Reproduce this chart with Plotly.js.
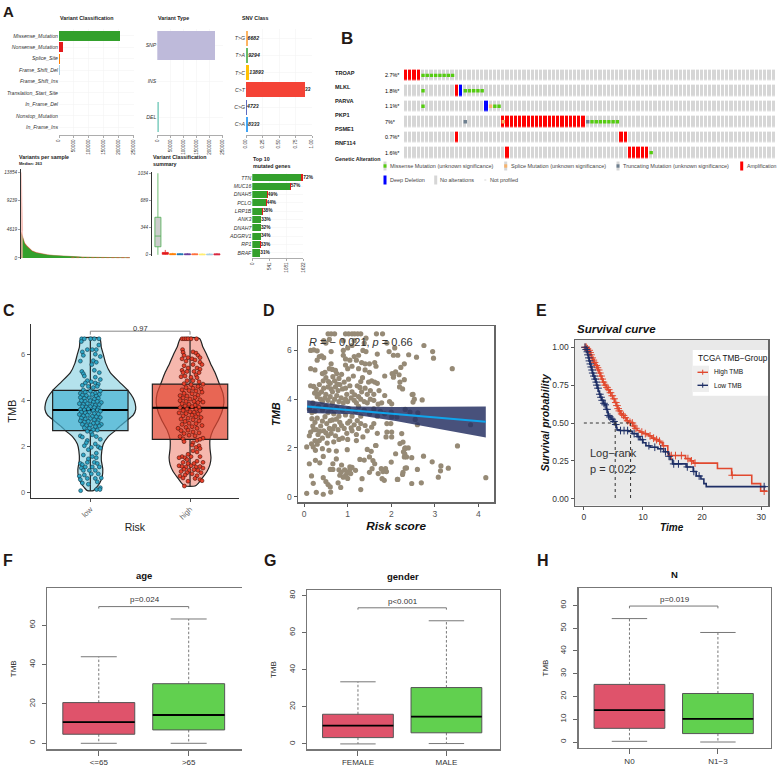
<!DOCTYPE html>
<html><head><meta charset="utf-8">
<script src="https://cdn.plot.ly/plotly-3.0.1.min.js"></script>
<style>html,body{margin:0;padding:0;background:#fff}#chart{width:777px;height:767px}</style>
</head><body><div id="chart"></div>
<script>
// ---------- A: MAF summary ----------
const variantClasses = ['Missense_Mutation','Nonsense_Mutation','Splice_Site','Frame_Shift_Del','Frame_Shift_Ins','Translation_Start_Site','In_Frame_Del','Nonstop_Mutation','In_Frame_Ins'];
const variantClassValues = [204000,13000,4000,2500,1500,700,500,300,200];
const variantClassColors = ['#33a02c','#e31a1c','#ff7f00','#a6cee3','#cab2d6','#fb9a99','#ffff99','#1f78b4','#e7298a'];
const classTicks = [0,50000,100000,150000,200000,250000];
const variantTypes = ['SNP','INS','DEL'];
const variantTypeValues = [220000,300,5000];
const variantTypeColors = ['#bebada','#ffffb3','#8dd3c7'];
const snvClasses = ['T>G','T>A','T>C','C>T','C>G','C>A'];
const snvShare = [0.024,0.034,0.05,0.89,0.017,0.03];
const snvLabels = ['6682','9294','13893','33','4723','8333'];
const snvColors = ['#fdb462','#66bb6a','#ffc107','#f44336','#5c6bc0','#42a5f5'];
const snvTicks = [0,0.25,0.5,0.75,1];
const snvTickText = ['0.00','0.25','0.50','0.75','1.00'];
const sampleRank = [0,1,2,3,5,7,10,14,18,24,30,38,46,56,66,76,88,100];
const sampleGreen = [3966,3300,2800,2300,1850,1500,1060,800,640,480,370,265,190,130,90,60,40,20];
const sampleRed = [4200,3500,2980,2460,1990,1620,1160,880,700,525,405,290,208,142,98,66,44,22];
const sampleSpikeX = [0,0.4,0.8,1.2];
const sampleSpikeY = [13854,9000,6500,4400];
const sampleTicks = [0,4619,9239,13854];
const summaryPos = [1,2,3,4,5,6,7,8,9];
const summaryQ1 = [102,6,2,1,1,1,0,0,0];
const summaryMedian = [238,15,8,5,4,4,3,3,3];
const summaryQ3 = [476,30,14,13,13,12,10,10,12];
const summaryLow = [0,0,0,0,0,0,0,0,0];
const summaryHigh = [1034,62,25,22,22,20,18,18,20];
const summaryColors = ['#cccccc','#e31a1c','#ff7f00','#1f78b4','#6a3d9a','#ff6f3c','#ffed6f','#a6cee3','#d7263d'];
const summaryLines = ['#4caf50','#e31a1c','#ff7f00','#1f78b4','#6a3d9a','#ff6f3c','#ffed6f','#a6cee3','#d7263d'];
const summaryTicks = [0,344,689,1034];
const topGenes = ['TTN','MUC16','DNAH5','PCLO','LRP1B','ANK3','DNAH7','ADGRV1','RP1','BRAF'];
const topGreen = [1562,1192,455,438,312,272,264,262,259,249];
const topRed = [60,30,40,15,25,12,10,12,4,4];
const topPct = ['72%','57%','49%','44%','38%','33%','32%','34%','33%','31%'];
const topTicks = [0,541,1081,1622];

// ---------- B: oncoprint ----------
const oncoGenes = ['TROAP','MLKL','PARVA','PKP1','PSME1','RNF114'];
const oncoPct = ['2.7%*','1.8%*','1.1%*','7%*','0.7%*','1.6%*'];
const oncoLabelY = [72.7,86.7,100.7,114.7,128.7,142.7];
const oncoCols = 88;
const ampCols = {TROAP:[0,1,2,3],MLKL:[12],PARVA:[],PKP1:[23,24,25,26,27,28,29,30,31,32,33,34,35,36,37,38,39,40,41,42],PSME1:[12,51,52],RNF114:[24,53,54,55,56,57]};
const delCols = {TROAP:[],MLKL:[13],PARVA:[19],PKP1:[],PSME1:[],RNF114:[]};
const missenseCols = {TROAP:[4,5,6,7,8,9,10,11],MLKL:[4,14,15,16,17,18],PARVA:[4,21,22],PKP1:[44,45,46,47,48,49,50],PSME1:[],RNF114:[58]};
const spliceCols = {PARVA:[20],PKP1:[23]};
const truncCols = {PKP1:[14,43]};

// ---------- C: violin ----------
const riskTicks = [1,2];
const riskNames = ['low','high'];
const lowViolinY = [6.68,6.3,6,5.6,5.2,4.8,4.42,4.1,3.85,3.6,3.35,3.1,2.85,2.68,2.4,2.1,1.8,1.4,1,0.7,0.4,0.2,0.07];
const lowViolinW = [.095,.11,.13,.155,.2,.29,.378,.43,.45,.455,.43,.36,.29,.25,.175,.13,.115,.11,.125,.12,.095,.06,.03];
const highViolinY = [6.68,6.3,6,5.6,5.2,4.7,4.3,3.9,3.5,3.1,2.7,2.3,1.9,1.5,1.2,0.9,0.6,0.4,0.27];
const highViolinW = [.095,.13,.165,.205,.25,.295,.33,.34,.32,.28,.23,.2,.2,.21,.2,.17,.12,.085,.05];
const lowBox = {q1:2.68,med:3.58,q3:4.43,lo:0.07,hi:6.68};
const highBox = {q1:2.3,med:3.67,q3:4.7,lo:0.27,hi:6.68};
const lowPoints = [[-.087,6.67],[-.06,6.67],[.003,6.67],[.04,6.67],[.087,6.67],[-.09,6.55],[.02,6.2],[-.03,6.2],[.06,6.2],[.085,6.4],[-.08,6.1],[-.07,5.95],[.05,6],[.1,5.9],[-.1,5.7],[.03,5.72],[.06,5.65],[.015,5.55],[.09,5.2],[-.085,5.25],[-.07,5.15],[-.06,5.05],[.04,5.3],[.05,5],[.1,4.9],[-.03,4.85],[-.05,4.75],[.01,4.8],[.05,4.75],[.08,4.7],[-.08,4.65],[-.02,4.6],[.03,4.55],[.07,4.6],[.1,4.4],[-.07,4.45],[-.1,4.3],[-.05,4.35],[0,4.4],[.05,4.3],[.09,4.25],
[-.08,4.22],[-.04,4.2],[.02,4.25],[.06,4.18],[-.1,4.12],[-.06,4.08],[-.01,4.1],[.04,4.05],[.08,4.08],[-.09,3.98],[-.05,3.95],[0,3.98],[.03,3.92],[.07,3.95],[.11,3.9],[-.11,3.85],[-.07,3.82],[-.03,3.85],[.02,3.8],[.05,3.78],[.09,3.8],[-.08,3.72],[-.04,3.7],[0,3.72],[.04,3.68],[.08,3.66],[-.1,3.6],[-.06,3.58],[-.02,3.62],[.03,3.55],[.07,3.58],[.1,3.52],[-.09,3.48],[-.05,3.45],[-.01,3.48],[.04,3.42],[.08,3.4],[-.11,3.38],[-.07,3.32],[-.03,3.35],[.02,3.3],[.06,3.28],[.1,3.25],[-.09,3.22],[-.05,3.18],[0,3.2],[.04,3.15],[.08,3.12],[-.1,3.1],[-.06,3.05],[-.02,3.08],[.03,3],[.07,3.02],[.11,2.95],[-.08,2.95],[-.04,2.9],[0,2.92],[.05,2.85],[.09,2.88],[-.06,2.8],[-.01,2.78],[.03,2.72],[.07,2.7],[-.03,2.65],[.01,2.6],
[-.1,2.45],[-.08,2.4],[.02,2.5],[.06,2.42],[.1,2.3],[-.03,2.25],[-.04,2.15],[.05,2.1],[-.06,2.02],[.08,1.98],[.1,1.92],[-.02,1.85],[.01,1.95],[.06,1.7],[.02,1.55],[-.07,1.62],[-.02,1.45],[.06,1.5],[-.1,1.25],[-.08,1.2],[-.03,1.3],[.04,1.3],[.07,1.25],[-.05,1.1],[-.09,1.05],[.02,1.1],[.09,1.1],[-.07,.95],[-.01,.95],[.05,.95],[-.11,.7],[-.06,.75],[.01,.8],[.08,.8],[-.1,.55],[-.03,.6],[.05,.6],[.11,.62],[-.08,.4],[-.02,.35],[.07,.45],[.1,.2],[.063,.12],[.097,.12],[-.097,.07]];
const highPoints = [[-.08,6.67],[-.06,6.67],[-.04,6.67],[-.02,6.67],[.01,6.67],[.065,6.67],[-.075,6.2],[-.07,6.08],[.03,6.1],[.06,6.05],[-.06,5.95],[.08,5.95],[.1,5.85],[-.08,5.8],[-.02,5.85],[.02,5.8],[.05,5.75],[-.04,5.7],[.1,5.65],[.03,5.55],[.12,5.55],[-.06,5.5],[-.02,5.4],[.07,5.4],[.1,5.35],[-.08,5.3],[-.07,5.2],[-.03,5.25],[.04,5.25],[.09,5.2],[-.09,5.02],[.06,5.1],[-.05,5.05],[.01,5],[.07,4.98],[-.03,4.85],[.03,4.85],[.09,4.8],[.13,4.7],
[-.06,4.72],[.01,4.68],[.08,4.6],[-.04,4.55],[.03,4.52],[.11,4.5],[-.08,4.45],[-.01,4.42],[.06,4.4],[.12,4.35],[-.06,4.3],[.02,4.28],[.08,4.22],[-.1,4.2],[-.03,4.18],[.05,4.12],[-.07,4.1],[0,4.05],[.1,4.02],[-.1,3.98],[-.04,3.95],[.04,3.95],[.08,3.9],[.13,3.92],[-.08,3.85],[-.01,3.82],[.05,3.78],[-.05,3.75],[.02,3.72],[.09,3.7],[-.1,3.68],[-.03,3.62],[.06,3.6],[.1,3.55],[-.07,3.55],[0,3.5],[.04,3.48],[-.11,3.45],[-.04,3.42],[.08,3.4],[.02,3.35],[-.07,3.32],[.06,3.28],[.11,3.25],[-.02,3.22],[-.09,3.18],[.03,3.15],[.09,3.1],[-.05,3.08],[-.01,3],[.06,2.98],[-.08,2.95],[.12,2.9],[.02,2.85],[-.04,2.82],[.07,2.78],[-.12,2.78],[-.09,2.68],[-.02,2.7],[.03,2.62],[.09,2.58],[-.06,2.55],[.13,2.35],[-.01,2.48],[.05,2.45],[-.1,2.42],[-.07,2.32],
[-.06,2.2],[.03,2.15],[.07,2.25],[.1,2.3],[.02,2.05],[.09,2.02],[.06,1.95],[.1,1.9],[.03,1.8],[.07,1.75],[-.02,1.65],[-.08,1.55],[-.11,1.5],[-.05,1.5],[.01,1.55],[.1,1.55],[-.03,1.42],[.07,1.35],[.13,1.3],[-.07,1.3],[-.02,1.25],[.04,1.25],[-.11,1.15],[-.08,1.12],[-.04,1.1],[.01,1.15],[.06,1.1],[.1,1.12],[.13,1.05],[-.06,1],[-.01,.95],[.04,.98],[.08,.95],[-.09,.9],[-.03,.85],[.02,.8],[.11,.85],[-.05,.75],[.07,.72],[-.1,.7],[-.07,.62],[.05,.6],[.1,.55],[.12,.5],[-.02,.48],[-.057,.27]];

// ---------- D: scatter ----------
const riskTmbPoints = [[.55,6.68],[.62,6.68],[.7,6.68],[.95,6.68],[1.02,6.68],[1.1,6.68],[1.16,6.68],[1.23,6.68],[1.3,6.68],[1.66,6.68],[1.8,6.68],[.45,6.4],[.5,6.3],[.58,6.45],[.9,6.4],[1.15,6.4],[1.38,6.3],[1.42,6.5],[1.9,6.3],[2.08,6.1],[2.75,6.2],[.15,6],[.22,6.02],[.3,5.98],[.62,5.95],[.9,6],[1,6.1],[1.1,6.2],[1.35,6],[1.42,5.95],[1.68,5.85],[1.95,5.95],[2.05,5.8],[2.15,5.8],[2.4,5.82],[2.58,5.72],[2.95,5.95],[2.97,5.68],[.3,5.6],[.35,5.75],[.4,5.78],[.45,5.7],[.62,5.45],[.9,5.8],[.95,5.65],[1.05,5.6],[1.15,5.75],[1.2,5.6],[1.25,5.8],[1.32,5.5],[1.4,5.45],[1.5,5.45],[1.62,5.5],[2.3,5.45],[2.22,5.3],[3.4,5.25],[.15,5.25],[.25,5.2],[.42,5.05],[.48,5.1],[.58,5.25],[.65,5.22],[.72,5.18],[.75,5.05],[.95,5.4],[1,5.25],[1.1,5.35],[1.25,5.25],[1.4,5.2],[1.5,5.1],[1.65,5.35],[1.85,4.95],[2.02,5.05],[2.1,5.12],[2.18,5],[2.05,4.9],[2.26,4.42],[2.3,4.8],[2.19,4.5],[2.2,4.7],[2.05,4.97],[2.71,3.97],[2.5,3.88],[2.53,4],[2.48,4.19],[2.5,4.2],
[.15,4.55],[.22,4.52],[.28,4.4],[.35,4.6],[.4,4.3],[.45,4.45],[.5,4.2],[.55,4.5],[.6,4.65],[.65,4.3],[.7,4.75],[.72,4.5],[.78,4.35],[.82,4.6],[.88,4.42],[.92,4.7],[.98,4.2],[1.05,4.55],[1.1,4.3],[1.22,4.55],[1.25,4.1],[1.32,4.3],[1.4,4.45],[1.48,4.7],[1.55,4.75],[1.62,4.7],[1.68,4.65],[1.45,4.2],[1.6,4.2],[.3,4.1],[.38,4],[.42,3.9],[.48,4.05],[.55,3.95],[.6,4.1],[.65,3.85],[.7,4],[.75,4.15],[.8,3.9],[.85,4.05],[.9,3.85],[.95,4],[1,3.9],[1.08,4.05],[1.15,3.95],[1.2,3.85],[1.3,4],[1.38,3.9],[1.45,3.85],[1.52,4],[1.6,3.95],[1.7,3.8],[1.78,3.85],[.2,3.85],[1.96,3.9],[2.01,3.81],
[.5,4.88],[.56,4.72],[.66,4.92],[.8,4.85],[.86,5.02],[1.02,4.82],[1.13,4.95],[1.3,4.72],[1.34,4.88],[.44,4.75],[.34,4.22],[.62,4.42],[.76,4.62],[.95,4.45],[1.16,4.18],[1.28,4.48],[1.52,4.35],[1.72,4.35],[1.85,4.15],[.24,4.25],
[.12,3.6],[.18,3.45],[.25,3.5],[.33,3.7],[.42,3.55],[.5,3.7],[.55,3.45],[.62,3.6],[.68,3.4],[.75,3.65],[.8,3.3],[.88,3.55],[.95,3.35],[1.02,3.6],[1.1,3.3],[1.18,3.5],[1.25,3.7],[1.3,3.3],[1.38,3.55],[1.5,3.4],[1.6,3.6],[1.68,3.3],[1.75,3.5],[1.85,3.4],[2.01,3.27],[2.13,3.27],[2,3.47],[2.32,3.58],[2.43,3.47],[2.61,3.44],[2.55,3.17],[2.6,2.95],[1.99,3],[1.9,3],
[.12,2.5],[.15,2.65],[.2,2.9],[.25,3.05],[.18,3.2],[.28,2.75],[.32,2.55],[.38,2.9],[.42,3.1],[.45,2.7],[.52,3],[.58,2.8],[.62,2.6],[.65,3.15],[.7,2.9],[.72,2.5],[.78,2.75],[.8,2.35],[.82,3.05],[.88,2.4],[.92,2.8],[.98,2.6],[1.05,3.1],[1.1,2.7],[1.15,2.95],[1.2,2.55],[1.25,2.8],[1.3,3],[1.35,2.45],[1.45,2.7],[1.55,2.85],[1.6,3],[1.68,2.6],[.35,2.3],[.42,2.4],[.55,2.5],[.68,2.25],[.25,2.3],[.3,2.15],[1,2.35],[1.2,2.3],[1.65,2.1],[2.24,2.59],[2.01,2.65],[1.9,2.65],[1.88,2.45],[2.01,2.45],[2.2,2.18],[2.32,2],[2.39,2],[2.28,1.84],[2.3,1.63],
[.3,3.22],[.48,3.28],[.6,3.12],[.74,3.18],[.86,2.92],[1,3.02],[1.08,2.82],[1.22,3.12],[1.4,2.92],[.22,2.75],[.36,2.68],[.5,2.62],[.66,2.78],
[.06,.14],[.28,.18],[.44,.1],[.61,.19],[1.3,.29],[.21,.55],[.44,.78],[.5,.62],[.55,.5],[.6,.4],[.78,.57],[.84,.38],[1.33,.74],[.17,.85],[.82,.88],[.95,.85],[1,1],[1.05,1.1],[1.1,1.2],[.93,1.1],[.98,.95],[1.07,.95],[1,.75],[.9,.8],[.6,1.12],[.66,1.12],[.8,1.1],[.85,1],[.86,1.3],[1.18,1.08],[1.5,1],[1.56,1.15],[1.7,.95],[1.79,.74],[1.84,.67],[1.77,1.15],[1.87,1.15],[1.81,1.03],[1.89,1.03],[2.14,.71],[2.27,1],[2.32,1.17],[.66,1.35],[.74,1.55],[1.05,1.22],[1.28,1.53],[1.38,1.5],[1.5,1.63],[1.58,1.48],[1.62,1.35],[2,1.42],[1.64,2.1],[1.45,1.94],[1.54,1.86],[2.1,1.76],[.12,1.35],[.26,1.49],[.36,1.39],[.44,1.65],[.06,2.04],[.17,2.17],[.21,2.04],[.26,1.9],[.42,1.97],[.57,1.9],[.74,1.87],[.99,1.93],[.53,2.2],[2.27,2.24],[2.31,1.97],[2.31,1.76],[2.35,1.63],
[3.52,2.08],[3.82,2.95],[4.17,.78],[3.31,1.17],[3.14,1.26],[3.13,1.06],[3.08,.8],[2.94,1.43],[2.74,1.66],[2.47,1.6],[2.69,.57],[2.47,.54],[2.6,1.12],[2.35,1.18],[2.26,.91],[2.15,.71]];
const fitX = [0.07,1.1,2.1,3.1,4.17];
const fitY = [3.7,3.54,3.39,3.23,3.07];
const fitUpper = [3.95,3.7,3.68,3.68,3.7];
const fitLower = [3.43,3.38,3.1,2.78,2.43];

// ---------- E: survival ----------
const highT = [0,.3,.5,.8,1,1.15,1.3,1.5,1.7,2,2.2,2.4,2.6,2.8,3,3.2,3.5,3.8,4,4.3,4.6,4.9,5.2,5.5,5.7,5.9,6.2,6.5,6.8,7.2,7.6,8,8.3,8.6,9,9.5,10,10.6,11,11.5,12,12.6,13,13.3,14.2,14.5,17.2,18,18.5,22.6,25,28.4,29.9,31];
const highS = [1,1,.99,.98,.965,.95,.93,.915,.9,.88,.865,.85,.83,.81,.79,.77,.75,.735,.72,.7,.68,.66,.635,.615,.595,.58,.56,.55,.535,.515,.505,.5,.48,.465,.45,.44,.43,.425,.415,.4,.39,.38,.37,.35,.3,.285,.265,.25,.235,.2,.155,.1,.05,.05];
const lowT = [0,.3,.5,.65,.8,.9,1,1.15,1.3,1.45,1.6,1.8,2,2.15,2.3,2.45,2.6,2.8,3,3.3,3.5,3.8,4,4.1,4.2,4.6,5,5.3,5.5,5.6,6,7.5,8.2,9,9.5,10,10.5,11.2,12.5,13.5,14.3,14.6,15,16.7,17.3,18.5,19,19.8,20.3,20.7,30.8];
const lowS = [1,.985,.97,.95,.93,.91,.89,.87,.85,.83,.81,.79,.77,.75,.73,.71,.69,.67,.65,.63,.62,.59,.57,.55,.54,.525,.51,.49,.47,.455,.45,.445,.43,.41,.39,.37,.35,.34,.33,.31,.28,.26,.23,.23,.21,.18,.15,.13,.1,.08,.08];
const highCensorT = [.2,.4,.6,.9,1.05,1.2,1.4,1.6,1.8,2.1,2.3,2.5,2.7,2.9,3.1,3.3,3.6,3.9,4.2,4.5,4.8,5.1,5.4,5.6,5.8,6,6.4,6.7,7,7.4,7.8,8.2,8.5,8.8,9.8,10.4,11.2,11.8,12.3,12.8,13.5,14.8,15.5,16.5,17.6,18.2,18.8,25.1,30.5];
const lowCensorT = [.2,.4,.6,.7,.85,.95,1.1,1.25,1.4,1.5,1.7,1.9,2.1,2.2,2.4,2.7,2.9,3.1,3.4,3.6,3.9,4.15,4.4,4.8,5.1,5.4,6.2,6.8,7.4,8.5,9.2,9.9,11,12,13,13.8,14.4,15.2,16,17.5,18.6,19.5,30.5];
const medianLowT = 5.3, medianHighT = 7.9;

// ---------- F, G, H: boxes ----------
const ageGroups = ['<=65','>65'];
const ageBoxes = {q1:[4.6,6.8],med:[10.8,14.4],q3:[20.7,30.3],lo:[0,0],hi:[44,63.2]};
const genderGroups = ['FEMALE','MALE'];
const genderBoxes = {q1:[3.4,6],med:[9.9,14.7],q3:[16,30.4],lo:[0,0.2],hi:[33.5,66.4]};
const nGroups = ['N0','N1\u22123'];
const nBoxes = {q1:[6,3.7],med:[14,10.2],q3:[25.3,21.3],lo:[0.3,0],hi:[54.2,48.1]};

// ---------- helpers ----------
const W = 777, H = 767, FONT = 'Liberation Sans, Arial, sans-serif';
const traces = [], annotations = [], shapes = [];
const layout = {width:W,height:H,margin:{l:0,r:0,t:0,b:0},paper_bgcolor:'#fff',plot_bgcolor:'#fff',
  font:{family:FONT,color:'#222'},barmode:'stack',annotations,shapes,showlegend:false,hovermode:false};
function panel(n,l,r,t,b,xo,yo){
  layout['xaxis'+n] = Object.assign({domain:[l/W,r/W],anchor:'y'+n,zeroline:false,showgrid:false,automargin:false},xo);
  layout['yaxis'+n] = Object.assign({domain:[1-b/H,1-t/H],anchor:'x'+n,zeroline:false,showgrid:false,automargin:false},yo);
}
function note(text,px,py,o={}){
  const a = o.anchor||'left';
  annotations.push({text,x:(a==='left'?px-1:px)/W,y:1-py/H,xref:'paper',yref:'paper',showarrow:false,xanchor:a,yanchor:'middle',
    textangle:o.angle||0,font:{size:o.size||6,color:o.color||'#222',family:FONT,weight:o.bold?'bold':'normal',style:o.italic?'italic':'normal'}});
}
const add = t => {traces.push(Object.assign({showlegend:false,hoverinfo:'skip'},t)); };
const grid = '#f1f1f1', tinyX = {size:4.6,color:'#333'};

// A1
const aX = {ticks:'outside',ticklen:2,tickwidth:.5,tickcolor:'#555',showline:true,linecolor:'#777',linewidth:.6,showgrid:true,gridcolor:grid,gridwidth:.5,tickangle:-90,tickfont:tinyX};
const catY = (cats,lo,hi)=>({type:'category',categoryorder:'array',categoryarray:cats,range:[hi,lo],ticks:'',tickfont:{size:5.2,style:'italic',color:'#333'},showgrid:true,gridcolor:grid,gridwidth:.5});
panel(1,59,133.7,29,135,Object.assign({range:[0,250000],tickvals:classTicks,ticktext:classTicks.map(String)},aX),catY(variantClasses,-.6,8.69));
add({type:'bar',orientation:'h',x:variantClassValues,y:variantClasses,width:.88,marker:{color:variantClassColors},xaxis:'x1',yaxis:'y1'});
// A2
panel(2,157.3,222.7,29,135,Object.assign({range:[0,250000],tickvals:classTicks,ticktext:classTicks.map(String)},aX),catY(variantTypes,-.46,2.5));
add({type:'bar',orientation:'h',x:variantTypeValues,y:variantTypes,width:.83,marker:{color:variantTypeColors},xaxis:'x2',yaxis:'y2'});
// A3
panel(3,246,312,29,135,Object.assign({range:[0,1],tickvals:snvTicks,ticktext:snvTickText},aX),catY(snvClasses,-.54,5.62));
add({type:'bar',orientation:'h',x:snvShare,y:snvClasses,width:.87,marker:{color:snvColors},xaxis:'x3',yaxis:'y3'});
add({type:'scatter',mode:'text',x:snvShare,y:snvClasses,text:snvLabels,textposition:'middle right',cliponaxis:false,textfont:{size:5.2,style:'italic',weight:'bold',color:'#222'},xaxis:'x3',yaxis:'y3'});
// A4
const blackY = {showline:true,linecolor:'#333',linewidth:1,ticks:'outside',ticklen:2,tickwidth:.5,tickfont:{size:4.6,style:'italic',color:'#333'}};
panel(4,21,130,169,258.5,{range:[-.3,100],visible:false},Object.assign({range:[-100,14400],tickvals:sampleTicks,ticktext:sampleTicks.map(String)},blackY));
add({type:'scatter',mode:'lines',x:sampleRank,y:sampleRed,line:{color:'#e8503a',width:.3},fill:'tozeroy',fillcolor:'#e8503a',xaxis:'x4',yaxis:'y4'});
add({type:'scatter',mode:'lines',x:sampleRank,y:sampleGreen,line:{color:'#33a02c',width:.3},fill:'tozeroy',fillcolor:'#33a02c',xaxis:'x4',yaxis:'y4'});
add({type:'scatter',mode:'lines',x:sampleSpikeX,y:sampleSpikeY,line:{color:'#f7b3a8',width:.5},fill:'tozeroy',fillcolor:'#f7b3a8',xaxis:'x4',yaxis:'y4'});
add({type:'scatter',mode:'lines',x:[46,100],y:[30,30],line:{color:'#e8503a',width:.7,dash:'3px,2px'},xaxis:'x4',yaxis:'y4'});
// A5
panel(5,152,221,172,256,{range:[.2,9.55],visible:false,showgrid:true},Object.assign({range:[-15,1050],tickvals:summaryTicks,ticktext:summaryTicks.map(String)},blackY));
summaryPos.forEach((p,i)=>add({type:'box',x:[p],q1:[summaryQ1[i]],median:[summaryMedian[i]],q3:[summaryQ3[i]],lowerfence:[summaryLow[i]],upperfence:[summaryHigh[i]],width:.82,whiskerwidth:0,boxpoints:false,
  fillcolor:summaryColors[i],line:{color:summaryLines[i],width:.8},xaxis:'x5',yaxis:'y5'}));
// A6
panel(6,252.3,303.3,173,258,Object.assign({range:[0,1622],tickvals:topTicks,ticktext:topTicks.map(String)},aX),catY(topGenes,-.58,9.6));
add({type:'bar',orientation:'h',x:topGreen,y:topGenes,width:.85,marker:{color:'#33a02c'},xaxis:'x6',yaxis:'y6'});
add({type:'bar',orientation:'h',x:topRed,y:topGenes,width:.85,marker:{color:'#e31a1c'},xaxis:'x6',yaxis:'y6'});
add({type:'scatter',mode:'text',x:topGreen.map((g,i)=>g+topRed[i]),y:topGenes,text:topPct,textposition:'middle right',cliponaxis:false,textfont:{size:4.8,weight:'bold',color:'#222'},xaxis:'x6',yaxis:'y6'});
note('Variant Classification',59,18.5,{size:5.3,bold:true});
note('Variant Type',157,18.5,{size:5.3,bold:true});
note('SNV Class',241,18.5,{size:5.3,bold:true});
note('Variants per sample',18,157.3,{size:5.3,bold:true});
note('Median: 263',18,163.7,{size:4,bold:true});
note('Variant Classification',151.5,157.3,{size:5.3,bold:true});
note('summary',151.5,164,{size:5.3,bold:true});
note('Top 10',252,159,{size:5.3,bold:true});
note('mutated genes',252,165.5,{size:5.3,bold:true});

// B
const oncoZ = oncoGenes.map(g=>{
  const row = new Array(oncoCols).fill(0);
  ampCols[g].forEach(c=>row[c]=1);
  delCols[g].forEach(c=>row[c]=2);
  return row;
});
panel(7,404,775.8,67.6,160.4,{range:[-.5,oncoCols-.5],visible:false},{type:'category',categoryorder:'array',categoryarray:oncoGenes,range:[5.5,-.5],visible:false});
add({type:'heatmap',z:oncoZ,y:oncoGenes,x:Array.from({length:oncoCols},(_,i)=>i),xgap:1,ygap:4.5,zmin:0,zmax:2,showscale:false,
  colorscale:[[0,'#d6d6d6'],[.5,'#ff0000'],[1,'#0000ff']],xaxis:'x7',yaxis:'y7'});
function oncoMarks(map,color){
  const xs=[],ys=[];
  Object.keys(map).forEach(g=>map[g].forEach(c=>{xs.push(c);ys.push(g);}));
  add({type:'scatter',mode:'markers',x:xs,y:ys,marker:{symbol:'square',size:3.4,color,line:{width:0}},xaxis:'x7',yaxis:'y7'});
}
oncoMarks(missenseCols,'#55cc11'); oncoMarks(spliceCols,'#f6b26b'); oncoMarks(truncCols,'#6d7f8f');
oncoGenes.forEach((g,i)=>{
  note(g,334,oncoLabelY[i],{size:5.6,bold:true});
  note(oncoPct[i],384,75.3+i*15.48,{size:5.4,color:'#000'});
});
note('Genetic Alteration',334,159.3,{size:5.3,bold:true});
const legendRow1 = 166, legendRow2 = 180;
function swatch(cx,cy,w,h,color){shapes.push({type:'rect',xref:'paper',yref:'paper',x0:(cx-w/2)/W,x1:(cx+w/2)/W,y0:1-(cy+h/2)/H,y1:1-(cy-h/2)/H,fillcolor:color,line:{width:0}});}
[[385,'#d6d6d6',9],[385,'#55cc11',3.4]].forEach(a=>swatch(a[0],legendRow1,3,a[2],a[1]));
[[505.7,'#d6d6d6',9],[505.7,'#f6b26b',3.4]].forEach(a=>swatch(a[0],legendRow1,3,a[2],a[1]));
[[618,'#d6d6d6',9],[618,'#6d7f8f',3.4]].forEach(a=>swatch(a[0],legendRow1,3,a[2],a[1]));
swatch(741.7,legendRow1,3,9,'#ff0000'); swatch(385,legendRow2,3,9,'#0000ff'); swatch(435.7,legendRow2,3,9,'#d6d6d6'); swatch(485.3,legendRow2,2,.6,'#bbbbbb');
note('Missense Mutation (unknown significance)',389,legendRow1,{size:5.5,color:'#444'});
note('Splice Mutation (unknown significance)',510,legendRow1,{size:5.5,color:'#444'});
note('Truncating Mutation (unknown significance)',622,legendRow1,{size:5.5,color:'#444'});
note('Amplification',745.7,legendRow1,{size:5.2,color:'#444'});
note('Deep Deletion',389,legendRow2,{size:5.5,color:'#444'});
note('No alterations',439,legendRow2,{size:5.5,color:'#444'});
note('Not profiled',489,legendRow2,{size:5.5,color:'#444'});

// C
const xC = {range:[.402,2.491],tickvals:riskTicks,ticktext:riskNames,tickangle:-45,showline:true,linecolor:'#333',linewidth:1,ticks:'outside',ticklen:3,tickcolor:'#555',tickfont:{size:7.5,color:'#666'},title:{text:'Risk',font:{size:10.5,color:'#222'},standoff:3}};
const yC = {range:[-.25,7.3],tickvals:[0,2,4,6],showline:true,linecolor:'#333',linewidth:1,ticks:'outside',ticklen:3,tickcolor:'#555',tickfont:{size:7.5,color:'#666'},title:{text:'TMB',font:{size:11,color:'#222'},standoff:2}};
panel(8,30.7,239,324.3,498,xC,yC);
panel(14,30.7,239,324.3,498,{range:xC.range,overlaying:'x8',visible:false},{range:yC.range,overlaying:'y8',visible:false});
function violin(c,ys,ws,fill){
  const xs = ws.map(w=>c-w).concat(ws.slice().reverse().map(w=>c+w));
  const yy = ys.concat(ys.slice().reverse());
  add({type:'scatter',mode:'lines',x:xs.concat(xs[0]),y:yy.concat(yy[0]),line:{color:'#222',width:1.2,shape:'spline',smoothing:.6},fill:'toself',fillcolor:fill,xaxis:'x8',yaxis:'y8'});
}
violin(1,lowViolinY,lowViolinW,'#b4e2ec'); violin(2,highViolinY,highViolinW,'#f6b7ad');
function cBox(c,b,fill){
  add({type:'box',x:[c],q1:[b.q1],median:[b.med],q3:[b.q3],lowerfence:[b.lo],upperfence:[b.hi],width:.756,whiskerwidth:0,boxpoints:false,fillcolor:fill,line:{color:'#222',width:1.2},xaxis:'x14',yaxis:'y14'});
  add({type:'scatter',mode:'lines',x:[c-.378,c+.378],y:[b.med,b.med],line:{color:'#000',width:2},xaxis:'x14',yaxis:'y14'});
}
cBox(1,lowBox,'rgba(73,180,212,.72)'); cBox(2,highBox,'rgba(226,70,50,.72)');
add({type:'scatter',mode:'markers',x:lowPoints.map(p=>1+p[0]),y:lowPoints.map(p=>p[1]),cliponaxis:false,marker:{size:3.9,color:'#2fa6c6',line:{color:'#12394a',width:.6}},xaxis:'x14',yaxis:'y14'});
add({type:'scatter',mode:'markers',x:highPoints.map(p=>2+p[0]),y:highPoints.map(p=>p[1]),cliponaxis:false,marker:{size:3.9,color:'#e8402b',line:{color:'#4a120a',width:.6}},xaxis:'x14',yaxis:'y14'});
add({type:'scatter',mode:'lines',x:[1,1,2,2],y:[6.85,7,7,6.85],line:{color:'#888',width:1},xaxis:'x14',yaxis:'y14'});
annotations.push({text:'0.97',x:1.5,y:7.12,xref:'x14',yref:'y14',showarrow:false,font:{size:7.5,color:'#333',family:FONT}});

// D
const boxAxis = (extra)=>Object.assign({showline:true,mirror:true,linecolor:'#666',linewidth:1.5,ticks:'outside',ticklen:3,tickcolor:'#555',tickfont:{size:8.5,color:'#555'}},extra);
panel(9,298,494.3,326,502.3,
  boxAxis({range:[-.14,4.365],tickvals:[0,1,2,3,4],title:{text:'Risk score',font:{size:11.8,weight:'bold',style:'italic',color:'#111'},standoff:1}}),
  boxAxis({range:[-.23,7],tickvals:[0,2,4,6],title:{text:'TMB',font:{size:11,weight:'bold',style:'italic',color:'#111'},standoff:4}}));
add({type:'scatter',mode:'markers',x:riskTmbPoints.map(p=>p[0]),y:riskTmbPoints.map(p=>p[1]),marker:{size:5.2,color:'#968a76'},xaxis:'x9',yaxis:'y9'});
add({type:'scatter',mode:'lines',x:fitX.concat(fitX.slice().reverse()),y:fitUpper.concat(fitLower.slice().reverse()),line:{width:0},fill:'toself',fillcolor:'rgba(40,50,100,.85)',xaxis:'x9',yaxis:'y9'});
add({type:'scatter',mode:'lines',x:fitX,y:fitY,line:{color:'#10a5ec',width:2},xaxis:'x9',yaxis:'y9'});
note('<i>R</i> = \u2212 0.021, <i>p</i> = 0.66',308,342,{size:11,color:'#333'});

// E
panel(10,575,768.3,340,505.7,
  boxAxis({range:[-1.5,31.2],tickvals:[0,10,20,30],tickfont:{size:8.5,color:'#333'},title:{text:'Time',font:{size:10,weight:'bold',style:'italic',color:'#111'},standoff:2}}),
  boxAxis({range:[-.046,1.048],tickvals:[0,.25,.5,.75,1],ticktext:['0.00','0.25','0.50','0.75','1.00'],tickfont:{size:8.5,color:'#333'},title:{text:'Survival probability',font:{size:10.5,weight:'bold',style:'italic',color:'#111'},standoff:0}}));
shapes.push({type:'rect',xref:'x10',yref:'y10',x0:-1.5,x1:31.2,y0:-.046,y1:1.048,fillcolor:'#e9e9e9',line:{width:0},layer:'below'});
const red='#e1492f', navy='#1e2f66';
const stepAt = (ts,ss,t)=>{let v=ss[0];ts.forEach((x,i)=>{if(x<=t)v=ss[i];});return v;};
add({type:'scatter',mode:'lines',x:highT,y:highS,line:{color:red,width:1.6,shape:'hv'},xaxis:'x10',yaxis:'y10'});
add({type:'scatter',mode:'lines',x:lowT,y:lowS,line:{color:navy,width:1.6,shape:'hv'},xaxis:'x10',yaxis:'y10'});
add({type:'scatter',mode:'markers',x:highCensorT,y:highCensorT.map(t=>stepAt(highT,highS,t)),marker:{symbol:'cross-thin',size:5.5,line:{color:red,width:1}},xaxis:'x10',yaxis:'y10'});
add({type:'scatter',mode:'markers',x:lowCensorT,y:lowCensorT.map(t=>stepAt(lowT,lowS,t)),marker:{symbol:'cross-thin',size:5.5,line:{color:navy,width:1}},xaxis:'x10',yaxis:'y10'});
add({type:'scatter',mode:'lines',x:[0,medianHighT],y:[.5,.5],line:{color:'#333',width:1,dash:'3px,3px'},xaxis:'x10',yaxis:'y10'});
add({type:'scatter',mode:'lines',x:[medianLowT,medianLowT],y:[.5,0],line:{color:'#333',width:1,dash:'3px,3px'},xaxis:'x10',yaxis:'y10'});
add({type:'scatter',mode:'lines',x:[medianHighT,medianHighT],y:[.5,0],line:{color:'#333',width:1,dash:'3px,3px'},xaxis:'x10',yaxis:'y10'});
// group legend of panel E
const paperRect = (x0,x1,y0,y1,fill)=>shapes.push({type:'rect',xref:'paper',yref:'paper',layer:'above',x0:x0/W,x1:x1/W,y0:1-y1/H,y1:1-y0/H,fillcolor:fill,line:{width:0}});
paperRect(692.7,768,350,395.7,'#fff');
paperRect(692.7,709,365.7,392,'#eeeeee');
[[372.3,red],[385.3,navy]].forEach(k=>{
  paperRect(697.5,708,k[0]-.7,k[0]+.7,k[1]);
  paperRect(702.2,703.2,k[0]-2.5,k[0]+2.5,k[1]);
});
note('TCGA TMB\u2212Group',696.7,358,{size:8.2,color:'#111'});
note('High TMB',713,372.3,{size:6.6,color:'#111'});
note('Low TMB',713,385.3,{size:6.6,color:'#111'});
note('Survival curve',576,329,{size:11.5,bold:true,italic:true,color:'#111'});
annotations.push({text:'Log\u2212rank',x:.7,y:.3,xref:'x10',yref:'y10',xanchor:'left',showarrow:false,font:{size:11,color:'#333',family:FONT}});
annotations.push({text:'p = 0.022',x:.7,y:.195,xref:'x10',yref:'y10',xanchor:'left',showarrow:false,font:{size:11,color:'#333',family:FONT}});

// F G H
const rX = o=>Object.assign({showline:true,mirror:true,linecolor:'#777',linewidth:1.3,ticks:'outside',ticklen:5,tickcolor:'#666',tickfont:{size:8,color:'#333'}},o);
const rY = o=>Object.assign({showline:true,mirror:true,linecolor:'#777',linewidth:1.3,ticks:'outside',ticklen:4,tickcolor:'#666',tickangle:-90,ticklabelstandoff:4,tickfont:{size:8,color:'#333'},title:{text:'TMB',font:{size:8,color:'#222'},standoff:9}},o);
function boxPanel(n,l,r,t,b,xr,yr,groups,yt,data,bracketY,bracketDrop,label,title,titleX,titleY,labelPy,mirrorY){
  panel(n,l,r,t,b,rX({range:xr,tickvals:[1,2],ticktext:groups}),rY({range:yr,tickvals:yt,mirror:mirrorY}));
  [0,1].forEach(i=>{
    const c=i+1, xa='x'+n, ya='y'+n;
    add({type:'box',x:[c],q1:[data.q1[i]],median:[data.med[i]],q3:[data.q3[i]],lowerfence:[data.q1[i]],upperfence:[data.q3[i]],width:.8,whiskerwidth:0,boxpoints:false,
      fillcolor:i?'#61d04f':'#df536b',line:{color:'#555',width:1},xaxis:xa,yaxis:ya});
    add({type:'scatter',mode:'lines',x:[c-.4,c+.4],y:[data.med[i],data.med[i]],line:{color:'#000',width:1.8},xaxis:xa,yaxis:ya});
    [[data.q3[i],data.hi[i]],[data.q1[i],data.lo[i]]].forEach(w=>{
      add({type:'scatter',mode:'lines',x:[c,c],y:w,line:{color:'#555',width:.8,dash:'2.5px,2px'},xaxis:xa,yaxis:ya});
      add({type:'scatter',mode:'lines',x:[c-.2,c+.2],y:[w[1],w[1]],line:{color:'#777',width:1},xaxis:xa,yaxis:ya});
    });
  });
  add({type:'scatter',mode:'lines',x:[1,1,2,2],y:[bracketY-bracketDrop,bracketY,bracketY,bracketY-bracketDrop],line:{color:'#777',width:1},xaxis:'x'+n,yaxis:'y'+n});
  note(label,(l+r)/2,labelPy,{size:8,anchor:'center',color:'#333'});
  note(title,titleX,titleY,{size:9.5,bold:true,anchor:'center',color:'#111'});
}
boxPanel(11,47,242,588.3,749.3,[.424,2.593],[-3.05,78.8],ageGroups,[0,20,40,60],ageBoxes,69.5,1,'p=0.024','age',143.5,575,599.3,false);
boxPanel(12,307,499.5,590,749.3,[.424,2.6],[-2.9,83],genderGroups,[0,20,40,60,80],genderBoxes,73.4,1,'p<0.001','gender',403,576.7,601,true);
boxPanel(13,578.5,771,588.3,747.7,[.424,2.6],[-2.5,67.5],nGroups,[0,10,20,30,40,50,60],nBoxes,59.7,1,'p=0.019','N',674,574.7,599,true);

// panel letters
[['A',2,11,15],['B',340,38,17],['C',2,311,16],['D',262,311,16],['E',535,311,16],['F',2,560,16],['G',263,560,16],['H',536,560,16]].forEach(a=>note(a[0],a[1],a[2],{size:a[3],bold:true,color:'#231815'}));

Plotly.newPlot('chart',traces,layout,{displayModeBar:false,staticPlot:true});
</script></body></html>
